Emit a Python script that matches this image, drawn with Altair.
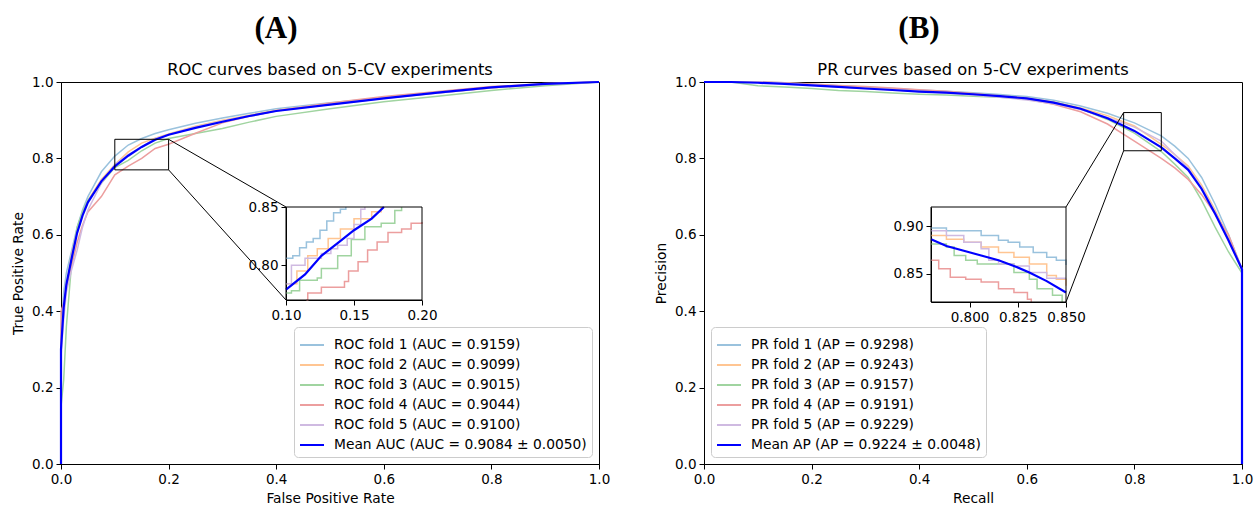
import altair as alt
import pandas as pd

# ---------------- labels & colours ----------------
roc_labels = [
    "ROC fold 1 (AUC = 0.9159)",
    "ROC fold 2 (AUC = 0.9099)",
    "ROC fold 3 (AUC = 0.9015)",
    "ROC fold 4 (AUC = 0.9044)",
    "ROC fold 5 (AUC = 0.9100)",
    "Mean AUC (AUC = 0.9084 ± 0.0050)",
]
pr_labels = [
    "PR fold 1 (AP = 0.9298)",
    "PR fold 2 (AP = 0.9243)",
    "PR fold 3 (AP = 0.9157)",
    "PR fold 4 (AP = 0.9191)",
    "PR fold 5 (AP = 0.9229)",
    "Mean AP (AP = 0.9224 ± 0.0048)",
]
series_colors = ["#9ac2dd", "#ffc592", "#a0d4a0", "#ec9e9e", "#cfbae1", "#0000ff"]

main_ticks = [0.0, 0.2, 0.4, 0.6, 0.8, 1.0]

# ---------------- ROC curves (main) ----------------
roc_fpr = [0.0, 0.0, 0.005, 0.01, 0.02, 0.03, 0.04, 0.05, 0.075, 0.10, 0.125, 0.15,
           0.175, 0.20, 0.25, 0.30, 0.35, 0.40, 0.50, 0.60, 0.70, 0.80, 0.90, 1.0]
roc_f1 = [0.0, 0.35, 0.45, 0.50, 0.56, 0.62, 0.665, 0.70, 0.765, 0.806, 0.835, 0.852,
          0.865, 0.875, 0.892, 0.906, 0.918, 0.930, 0.946, 0.959, 0.972, 0.985, 0.995, 1.0]
roc_f2 = [0.0, 0.30, 0.41, 0.47, 0.55, 0.61, 0.655, 0.69, 0.745, 0.784, 0.817, 0.840,
          0.853, 0.864, 0.884, 0.900, 0.913, 0.926, 0.943, 0.958, 0.971, 0.984, 0.994, 1.0]
roc_f3 = [0.0, 0.15, 0.22, 0.36, 0.53, 0.62, 0.66, 0.69, 0.735, 0.776, 0.795, 0.820,
          0.840, 0.852, 0.865, 0.878, 0.895, 0.910, 0.930, 0.948, 0.963, 0.978, 0.990, 1.0]
roc_f4 = [0.0, 0.40, 0.42, 0.46, 0.52, 0.58, 0.625, 0.66, 0.70, 0.757, 0.780, 0.800,
          0.826, 0.837, 0.866, 0.893, 0.910, 0.925, 0.945, 0.962, 0.975, 0.988, 0.996, 1.0]
roc_f5 = [0.0, 0.28, 0.38, 0.45, 0.51, 0.56, 0.62, 0.665, 0.735, 0.784, 0.810, 0.830,
          0.852, 0.862, 0.882, 0.898, 0.911, 0.924, 0.941, 0.957, 0.971, 0.985, 0.994, 1.0]
roc_mean = [0.0, 0.30, 0.41, 0.47, 0.54, 0.605, 0.65, 0.685, 0.74, 0.779, 0.807, 0.830,
            0.849, 0.862, 0.880, 0.896, 0.911, 0.924, 0.941, 0.957, 0.972, 0.986, 0.995, 1.0]

# ---------------- ROC inset (zoom region) ----------------
roc_zoom_x = [0.10, 0.20]
roc_zoom_y = [0.77, 0.85]
roc_inset_xticks = [0.10, 0.15, 0.20]
roc_inset_yticks = [0.80, 0.85]
ri_f1_x = [0.100, 0.105, 0.110, 0.115, 0.120, 0.125, 0.130, 0.135, 0.140, 0.144]
ri_f1_y = [0.806, 0.808, 0.815, 0.820, 0.823, 0.830, 0.838, 0.845, 0.848, 0.850]
ri_f2_x = [0.100, 0.108, 0.116, 0.123, 0.131, 0.140, 0.150, 0.163, 0.170]
ri_f2_y = [0.784, 0.795, 0.808, 0.814, 0.823, 0.831, 0.840, 0.846, 0.850]
ri_f3_x = [0.100, 0.104, 0.110, 0.123, 0.126, 0.138, 0.148, 0.158, 0.170, 0.180, 0.185]
ri_f3_y = [0.776, 0.778, 0.787, 0.789, 0.797, 0.808, 0.822, 0.833, 0.836, 0.847, 0.850]
ri_f4_x = [0.115, 0.116, 0.126, 0.143, 0.146, 0.153, 0.160, 0.167, 0.175, 0.185, 0.192, 0.200]
ri_f4_y = [0.770, 0.776, 0.781, 0.786, 0.795, 0.803, 0.813, 0.820, 0.828, 0.831, 0.836, 0.837]
ri_f5_x = [0.100, 0.104, 0.114, 0.126, 0.133, 0.138, 0.145, 0.150, 0.155, 0.158]
ri_f5_y = [0.784, 0.800, 0.806, 0.810, 0.814, 0.817, 0.823, 0.835, 0.848, 0.850]
ri_mean_x = [0.100, 0.114, 0.126, 0.138, 0.150, 0.163, 0.172]
ri_mean_y = [0.779, 0.792, 0.808, 0.819, 0.830, 0.840, 0.850]

# ---------------- PR curves (main) ----------------
pr_rec = [0.0, 0.05, 0.10, 0.15, 0.20, 0.25, 0.30, 0.35, 0.40, 0.45, 0.50, 0.55, 0.60,
          0.65, 0.70, 0.75, 0.80, 0.85, 0.875, 0.90, 0.925, 0.95, 0.975, 1.0, 1.0]
pr_f1 = [1.0, 1.0, 1.0, 0.998, 0.994, 0.990, 0.987, 0.983, 0.979, 0.976, 0.972, 0.967, 0.962,
         0.952, 0.937, 0.918, 0.893, 0.859, 0.832, 0.800, 0.750, 0.680, 0.600, 0.510, 0.0]
pr_f2 = [1.0, 1.0, 1.0, 0.997, 0.992, 0.988, 0.984, 0.980, 0.976, 0.973, 0.969, 0.964, 0.958,
         0.948, 0.932, 0.912, 0.885, 0.837, 0.810, 0.780, 0.730, 0.665, 0.590, 0.510, 0.0]
pr_f3 = [1.0, 1.0, 0.990, 0.987, 0.983, 0.978, 0.975, 0.971, 0.968, 0.966, 0.963, 0.960, 0.956,
         0.947, 0.930, 0.902, 0.866, 0.818, 0.785, 0.750, 0.690, 0.620, 0.555, 0.500, 0.0]
pr_f4 = [1.0, 1.0, 1.0, 0.998, 0.995, 0.991, 0.988, 0.984, 0.980, 0.976, 0.970, 0.963, 0.955,
         0.942, 0.922, 0.890, 0.845, 0.800, 0.775, 0.745, 0.705, 0.655, 0.600, 0.510, 0.0]
pr_f5 = [1.0, 1.0, 1.0, 0.997, 0.992, 0.987, 0.983, 0.980, 0.975, 0.971, 0.966, 0.960, 0.953,
         0.943, 0.928, 0.907, 0.882, 0.845, 0.810, 0.775, 0.725, 0.660, 0.585, 0.510, 0.0]
pr_mean = [1.0, 1.0, 0.998, 0.995, 0.991, 0.987, 0.983, 0.979, 0.975, 0.972, 0.968, 0.963, 0.957,
           0.946, 0.930, 0.905, 0.872, 0.829, 0.800, 0.770, 0.720, 0.655, 0.585, 0.510, 0.0]

# ---------------- PR inset (zoom region) ----------------
pr_zoom_x = [0.78, 0.85]
pr_zoom_y = [0.82, 0.92]
pr_inset_xticks = [0.800, 0.825, 0.850]
pr_inset_yticks = [0.85, 0.90]
pi_f1_x = [0.780, 0.788, 0.797, 0.806, 0.815, 0.820, 0.826, 0.833, 0.840, 0.845, 0.850]
pi_f1_y = [0.898, 0.895, 0.895, 0.890, 0.885, 0.883, 0.878, 0.872, 0.867, 0.864, 0.859]
pi_f2_x = [0.780, 0.788, 0.797, 0.806, 0.815, 0.823, 0.831, 0.840, 0.845, 0.850]
pi_f2_y = [0.890, 0.886, 0.883, 0.878, 0.872, 0.867, 0.860, 0.848, 0.844, 0.837]
pi_f3_x = [0.780, 0.788, 0.792, 0.798, 0.804, 0.815, 0.823, 0.831, 0.835, 0.843, 0.848]
pi_f3_y = [0.881, 0.878, 0.869, 0.864, 0.860, 0.860, 0.851, 0.844, 0.834, 0.827, 0.820]
pi_f4_x = [0.780, 0.784, 0.790, 0.798, 0.806, 0.815, 0.823, 0.830, 0.832]
pi_f4_y = [0.864, 0.855, 0.846, 0.844, 0.841, 0.834, 0.830, 0.823, 0.820]
pi_f5_x = [0.780, 0.788, 0.797, 0.806, 0.810, 0.815, 0.823, 0.831, 0.840, 0.850]
pi_f5_y = [0.895, 0.890, 0.883, 0.876, 0.864, 0.860, 0.858, 0.851, 0.845, 0.845]
pi_mean_x = [0.780, 0.788, 0.797, 0.806, 0.815, 0.823, 0.831, 0.840, 0.850]
pi_mean_y = [0.886, 0.879, 0.874, 0.869, 0.864, 0.858, 0.851, 0.842, 0.830]

# ---------------- layout ----------------
W, H = 538, 382
FONT = "DejaVu Sans"
ROC_INSET_PX_X = [225, 361]
ROC_INSET_PX_Y = [125, 218]
PR_INSET_PX_X = [227, 362]
PR_INSET_PX_Y = [125, 220]


def long_df(labels, xs_list, ys_list):
    rows = []
    for lab, xs, ys in zip(labels, xs_list, ys_list):
        for i, (x, y) in enumerate(zip(xs, ys)):
            rows.append({"series": lab, "x": x, "y": y, "idx": i})
    return pd.DataFrame(rows)


ONE = pd.DataFrame({"k": [0]})


def panel(labels, main_xs, main_ys, inset_xs, inset_ys, zoom_x, zoom_y,
          px_x, px_y, in_xticks, in_yticks, in_xfmt, in_yfmt,
          xtitle, ytitle, title, tag, legend_orient, zoom_corner_left):
    cscale = alt.Scale(domain=labels, range=series_colors)
    mdf = long_df(labels, main_xs, main_ys)
    idf = long_df(labels, inset_xs, inset_ys)
    mean_lab = labels[-1]

    # ----- main view -----
    xs = alt.Scale(domain=[0, 1], nice=False, zero=False)
    ys = alt.Scale(domain=[0, 1], nice=False, zero=False)
    ax_x = alt.Axis(values=main_ticks, format=".1f", title=xtitle)
    ax_y = alt.Axis(values=main_ticks, format=".1f", title=ytitle)
    legend = alt.Legend(
        title=None, orient=legend_orient, offset=7, symbolType="stroke",
        symbolSize=576, symbolStrokeWidth=2, rowPadding=0, labelFont=FONT,
        labelFontSize=13.8, labelColor="black", labelLimit=0, labelOffset=9,
        fillColor="white", strokeColor="#cccccc", cornerRadius=4, padding=5,
    )
    col = alt.Color("series:N", scale=cscale, legend=legend)

    def mx(**kw):
        return alt.X(scale=xs, axis=ax_x, **kw)

    def my(**kw):
        return alt.Y(scale=ys, axis=ax_y, **kw)

    folds = alt.Chart(mdf[mdf.series != mean_lab]).mark_line(strokeWidth=1.5).encode(
        x=mx(field="x", type="quantitative"), y=my(field="y", type="quantitative"),
        color=col, order="idx:Q",
    )
    mean = alt.Chart(mdf[mdf.series == mean_lab]).mark_line(strokeWidth=2.2).encode(
        x=mx(field="x", type="quantitative"), y=my(field="y", type="quantitative"),
        color=col, order="idx:Q",
    )
    zbox = alt.Chart(ONE).mark_rect(fill="white", fillOpacity=0, stroke="black", strokeWidth=1).encode(
        x=mx(datum=zoom_x[0]), x2=alt.X2(datum=zoom_x[1]),
        y=my(datum=zoom_y[0]), y2=alt.Y2(datum=zoom_y[1]),
    )
    if zoom_corner_left:
        cx, ix = zoom_x[0], px_x[1]
    else:
        cx, ix = zoom_x[1], px_x[0]
    conn_top = alt.Chart(ONE).mark_rule(color="black", strokeWidth=1).encode(
        x=mx(datum=cx), y=my(datum=zoom_y[1]),
        x2=alt.value(ix), y2=alt.value(px_y[0]),
    )
    conn_bot = alt.Chart(ONE).mark_rule(color="black", strokeWidth=1).encode(
        x=mx(datum=cx), y=my(datum=zoom_y[0]),
        x2=alt.value(ix), y2=alt.value(px_y[1]),
    )
    main = alt.layer(folds, mean, zbox, conn_top, conn_bot)

    # ----- inset view -----
    ixs = alt.Scale(domain=zoom_x, range=px_x, nice=False, zero=False)
    iys = alt.Scale(domain=zoom_y, range=[px_y[1], px_y[0]], nice=False, zero=False)
    iax_x = alt.Axis(orient="bottom", offset=px_y[1] - H, values=in_xticks,
                     format=in_xfmt, title=None)
    iax_y = alt.Axis(orient="left", offset=-px_x[0], values=in_yticks,
                     format=in_yfmt, title=None)

    def ix_(**kw):
        return alt.X(scale=ixs, axis=iax_x, **kw)

    def iy_(**kw):
        return alt.Y(scale=iys, axis=iax_y, **kw)

    in_folds = alt.Chart(idf[idf.series != mean_lab]).mark_line(
        strokeWidth=1.5, interpolate="step-after"
    ).encode(
        x=ix_(field="x", type="quantitative"), y=iy_(field="y", type="quantitative"),
        color=col, order="idx:Q",
    )
    in_mean = alt.Chart(idf[idf.series == mean_lab]).mark_line(strokeWidth=2.2).encode(
        x=ix_(field="x", type="quantitative"), y=iy_(field="y", type="quantitative"),
        color=col, order="idx:Q",
    )
    in_box = alt.Chart(ONE).mark_rect(fill="white", fillOpacity=0, stroke="black", strokeWidth=1).encode(
        x=ix_(datum=zoom_x[0]), x2=alt.X2(datum=zoom_x[1]),
        y=iy_(datum=zoom_y[0]), y2=alt.Y2(datum=zoom_y[1]),
    )
    inset = alt.layer(in_folds, in_mean, in_box)

    # ----- headers -----
    title_txt = alt.Chart(pd.DataFrame({"t": [title]})).mark_text(
        font=FONT, fontSize=16.3, align="center", baseline="alphabetic", color="black"
    ).encode(text="t:N", x=alt.value(W / 2), y=alt.value(-7))
    tag_txt = alt.Chart(pd.DataFrame({"t": [tag]})).mark_text(
        font="Liberation Serif", fontSize=31, fontWeight="bold", align="center",
        baseline="middle", color="black"
    ).encode(text="t:N", x=alt.value(215), y=alt.value(-53))

    return alt.layer(main, inset, title_txt, tag_txt).resolve_scale(
        x="independent", y="independent"
    ).properties(width=W, height=H)


panel_a = panel(
    roc_labels, [roc_fpr] * 6, [roc_f1, roc_f2, roc_f3, roc_f4, roc_f5, roc_mean],
    [ri_f1_x, ri_f2_x, ri_f3_x, ri_f4_x, ri_f5_x, ri_mean_x],
    [ri_f1_y, ri_f2_y, ri_f3_y, ri_f4_y, ri_f5_y, ri_mean_y],
    roc_zoom_x, roc_zoom_y, ROC_INSET_PX_X, ROC_INSET_PX_Y,
    roc_inset_xticks, roc_inset_yticks, ".2f", ".2f",
    "False Positive Rate", "True Positive Rate",
    "ROC curves based on 5-CV experiments", "(A)", "bottom-right", False,
)
panel_b = panel(
    pr_labels, [pr_rec] * 6, [pr_f1, pr_f2, pr_f3, pr_f4, pr_f5, pr_mean],
    [pi_f1_x, pi_f2_x, pi_f3_x, pi_f4_x, pi_f5_x, pi_mean_x],
    [pi_f1_y, pi_f2_y, pi_f3_y, pi_f4_y, pi_f5_y, pi_mean_y],
    pr_zoom_x, pr_zoom_y, PR_INSET_PX_X, PR_INSET_PX_Y,
    pr_inset_xticks, pr_inset_yticks, ".3f", ".2f",
    "Recall", "Precision",
    "PR curves based on 5-CV experiments", "(B)", "bottom-left", True,
)

chart = alt.hconcat(panel_a, panel_b, spacing=43).resolve_scale(
    color="independent"
).configure_view(
    stroke="black", strokeWidth=1
).configure_axis(
    labelFont=FONT, labelFontSize=13.5, labelColor="black", labelFlush=False,
    titleFont=FONT, titleFontSize=13.8, titleFontWeight="normal", titleColor="black",
    domainColor="black", tickColor="black", tickSize=5, labelPadding=3,
    titlePadding=6, grid=False,
).properties(
    padding={"left": 11, "top": 12, "right": 4, "bottom": 6}, background="white"
)

chart.save("out.html", embed_options={"renderer": "svg", "actions": False})
